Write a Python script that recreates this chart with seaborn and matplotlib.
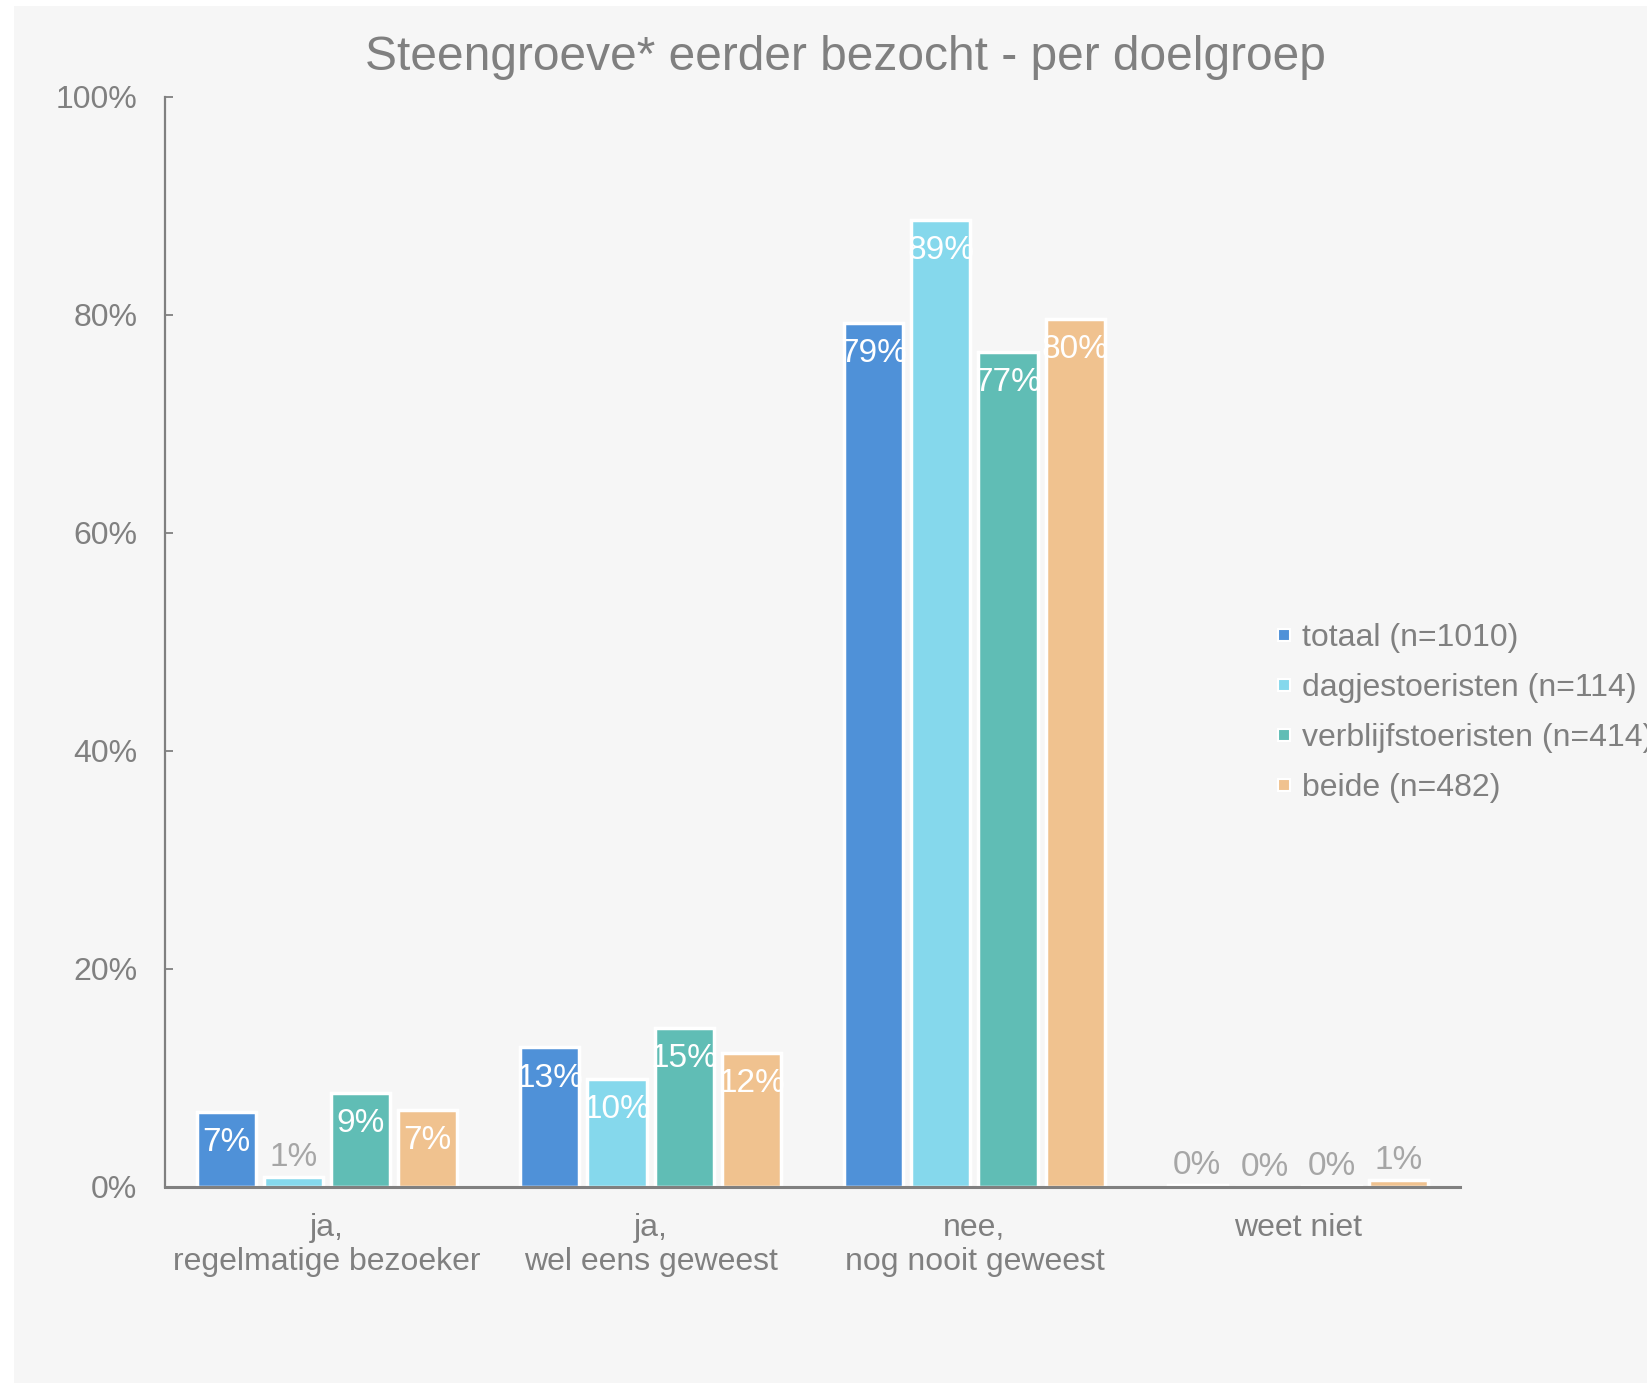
import matplotlib
matplotlib.use("Agg")
import matplotlib.pyplot as plt
from matplotlib.patches import Rectangle
from matplotlib.lines import Line2D
import seaborn as sns
import pandas as pd

categories = ["ja,\nregelmatige bezoeker", "ja,\nwel eens geweest",
              "nee,\nnog nooit geweest", "weet niet"]
groups = ["totaal (n=1010)", "dagjestoeristen (n=114)",
          "verblijfstoeristen (n=414)", "beide (n=482)"]
totaal = [6.9, 12.8, 79.3, 0.2]
dagjes = [0.9, 9.9, 88.7, 0.0]
verblijf = [8.6, 14.6, 76.6, 0.1]
beide = [7.1, 12.3, 79.6, 0.6]
colors = ["#4f91d8", "#85d8ec", "#60bdb5", "#f0c28f"]
yticks = [0, 20, 40, 60, 80, 100]

rows = []
for g, vals in zip(groups, [totaal, dagjes, verblijf, beide]):
    for c, v in zip(categories, vals):
        rows.append({"cat": c, "grp": g, "val": v})
df = pd.DataFrame(rows)

sns.set_theme(style="white")
plt.rcParams["font.family"] = ["Liberation Sans", "DejaVu Sans"]
GRAY = "#808080"

W, H = 1647, 1383
fig = plt.figure(figsize=(W / 100, H / 100), dpi=100, facecolor="white")
fig.patches.append(Rectangle((14 / W, 0), 1 - 14 / W, 1 - 6 / H,
                             transform=fig.transFigure, facecolor="#f6f6f6",
                             edgecolor="none", zorder=-10))
ax = fig.add_axes([165 / W, 1 - 1187 / H, (1460 - 165) / W, (1187 - 97) / H])
ax.set_facecolor("none")

sns.barplot(data=df, x="cat", y="val", hue="grp", order=categories,
            hue_order=groups, palette=colors, saturation=1, width=0.83,
            gap=0.12, edgecolor="white", linewidth=2.5, legend=False, ax=ax)

ax.set_xlim(-0.5, 3.5)
ax.set_ylim(0, 100)
ax.set_yticks(yticks)
ax.set_yticklabels([f"{t}%" for t in yticks])
ax.set_xlabel("")
ax.set_ylabel("")
for s in ["top", "right"]:
    ax.spines[s].set_visible(False)
ax.spines["left"].set_color(GRAY)
ax.spines["left"].set_linewidth(1.6)
ax.spines["bottom"].set_color(GRAY)
ax.spines["bottom"].set_linewidth(2.2)
ax.spines["bottom"].set_zorder(5)
ax.tick_params(axis="y", direction="in", length=6, width=1.3, color=GRAY,
               labelsize=23, labelcolor=GRAY, pad=20, left=True)
ax.tick_params(axis="x", length=0, labelsize=23, labelcolor=GRAY, pad=19)
for lab in ax.get_xticklabels():
    lab.set_linespacing(1.15)

for cont in ax.containers:
    for bar in cont:
        v = bar.get_height()
        xc = bar.get_x() + bar.get_width() / 2
        txt = f"{v:.0f}%"
        if v >= 5:
            ax.annotate(txt, (xc, v), xytext=(0, -22), textcoords="offset points",
                        ha="center", va="center", color="white", fontsize=24)
        else:
            ax.annotate(txt, (xc, v), xytext=(0, 3), textcoords="offset points",
                        ha="center", va="bottom", color="#a6a6a6", fontsize=24)

handles = [Line2D([], [], marker="s", linestyle="none", markersize=8.5,
                  markerfacecolor=c, markeredgecolor="white", markeredgewidth=1.5)
           for c in colors]
fig.legend(handles, groups, loc="center left",
           bbox_to_anchor=(1262 / W, 1 - 713 / H), frameon=False,
           fontsize=23, labelcolor=GRAY, handlelength=0.55, handletextpad=0.3,
           labelspacing=0.62, borderaxespad=0)

fig.text(845 / W, 1 - 58 / H, "Steengroeve* eerder bezocht - per doelgroep",
         ha="center", va="center", fontsize=34.5, color=GRAY)

fig.savefig("out.png", dpi=100, facecolor="white")
